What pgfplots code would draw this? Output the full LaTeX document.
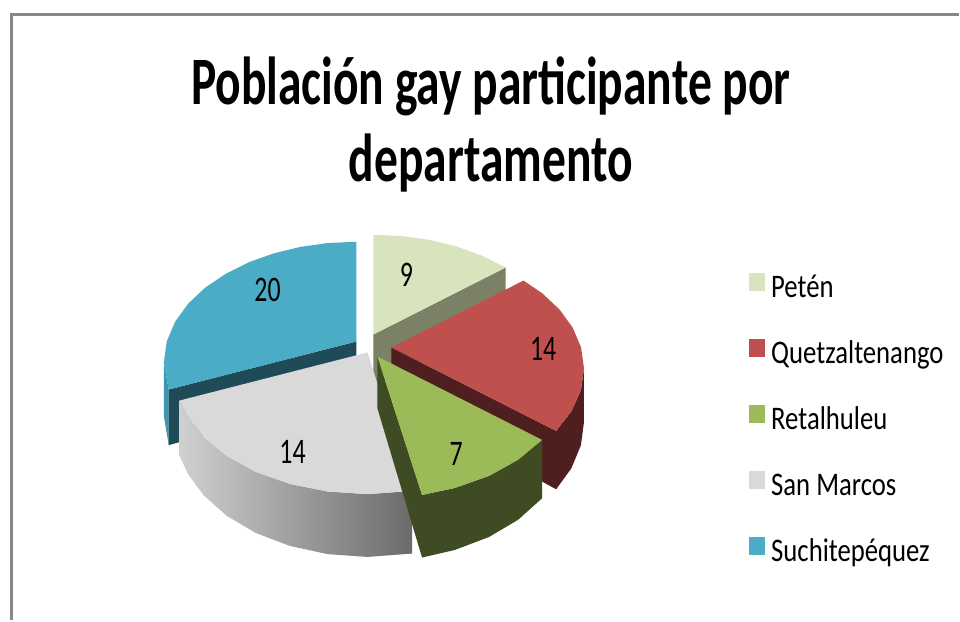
\documentclass[border=0pt]{standalone}
\usepackage{fontspec}
\setmainfont{Carlito}
\newfontfamily\titlefont{Carlito}[FakeStretch=0.70]
\newfontfamily\numfont{Carlito}[FakeStretch=0.72]
\newfontfamily\legfont{Carlito}[FakeStretch=0.81]
\usepackage{pgfplots}
\pgfplotsset{compat=1.18}

\definecolor{petTop}{HTML}{D7E4BD}
\definecolor{petFace}{HTML}{7A8167}
\definecolor{queTop}{HTML}{C0504D}
\definecolor{queSide}{HTML}{4F1E1E}
\definecolor{retTop}{HTML}{9BBB59}
\definecolor{retSide}{HTML}{3F4B23}
\definecolor{smTop}{HTML}{D9D9D9}
\definecolor{smL}{HTML}{D0D0D0}
\definecolor{smR}{HTML}{6B6B6B}
\definecolor{suTop}{HTML}{4BACC6}
\definecolor{suFace}{HTML}{1F4A57}
\definecolor{suSide}{HTML}{3B96AF}
\definecolor{frame}{HTML}{878787}

% Values: Petén 9, Quetzaltenango 14, Retalhuleu 7, San Marcos 14, Suchitepéquez 20 (total 64)
\begin{document}
\begin{tikzpicture}
\begin{axis}[
  x=0.5pt, y=0.5pt,
  xmin=0, xmax=960, ymin=0, ymax=621,
  hide axis, clip=false,
  legend cell align=left,
  legend image code/.code={\fill[#1] (0pt,0pt) rectangle (8pt,9pt);},
  legend style={draw=none, fill=none, at={(axis cs:750,348)}, anchor=north west,
    font=\legfont\fontsize{16.5}{19}\selectfont, row sep=17pt, column sep=3pt, inner sep=0pt,
    nodes={inner sep=0pt, text height=10.5pt, text depth=3.5pt, anchor=west}},
]
\fill[white] (axis cs:0,0) rectangle (axis cs:960,621);
\draw[color=frame, line width=1.5pt] (axis cs:11.5,0) -- (axis cs:11.5,606.5) -- (axis cs:960,606.5);

\addlegendimage{fill=petTop, draw=none}\addlegendentry{Petén}
\addlegendimage{fill=queTop, draw=none}\addlegendentry{Quetzaltenango}
\addlegendimage{fill=retTop, draw=none}\addlegendentry{Retalhuleu}
\addlegendimage{fill=smTop, draw=none}\addlegendentry{San Marcos}
\addlegendimage{fill=suTop, draw=none}\addlegendentry{Suchitepéquez}

% ---- Petén (9) ----
\addplot[draw=none, fill=petFace, forget plot] coordinates {(374,286) (506.3,353.0) (506.3,306.2) (374,234)} -- cycle;
\addplot[draw=none, fill=petTop, forget plot] coordinates {(374,286) (374,385.9) (402.2,384.6) (429.9,380.8) (456.6,374.3) (481.8,365.3) (506.3,353.0)} -- cycle;

% ---- Suchitepéquez (20) ----
\addplot[draw=none, fill=suSide, forget plot] coordinates {(164.1,258.0) (169.0,230.9) (169.0,175.2) (164.1,204.4)} -- cycle;
\addplot[draw=none, fill=suFace, forget plot] coordinates {(357,279) (169.0,230.9) (169.0,175.2) (357,227)} -- cycle;
\addplot[draw=none, fill=suTop, forget plot] coordinates {(357,279) (357,378.9) (328.8,377.6) (301.1,373.8) (274.4,367.3) (249.2,358.3) (226.1,346.8) (205.6,333.0) (188.5,316.9) (175.4,298.8) (167,279) (164.1,258.0) (169.0,230.9)} -- cycle;

% ---- Quetzaltenango (14) ----
\addplot[draw=none, fill=queSide, forget plot] coordinates {(584.9,252.0) (581.8,230.3) (572.2,208.8) (557.0,189.4) (557.0,131.0) (572.2,151.9) (581.8,175.0) (584.9,198.4)} -- cycle;
\addplot[draw=none, fill=queSide, forget plot] coordinates {(392,273) (557.0,189.4) (557.0,131.0) (392,221)} -- cycle;
\addplot[draw=none, fill=queTop, forget plot] coordinates {(392,273) (524.3,340.0) (543.4,327.0) (560.5,310.9) (573.6,292.8) (582,273) (584.9,252.0) (581.8,230.3) (572.2,208.8) (557.0,189.4)} -- cycle;

% ---- San Marcos (14) ----
\addplot[draw=none, left color=smL, right color=smR, forget plot] coordinates {(412.7,129.3) (368,126.1) (328.2,128.7) (290.4,136.3) (256.2,148.4) (227.1,164.4) (204.2,183.1) (187.8,203.8) (180.0,219.9) (180.0,164.2) (187.8,146.9) (204.2,124.6) (227.1,104.4) (256.2,87.2) (290.4,74.2) (328.2,66.0) (368,63.2) (412.7,66.6)} -- cycle;
\addplot[draw=none, fill=smTop, forget plot] coordinates {(368,268) (412.7,129.3) (368,126.1) (328.2,128.7) (290.4,136.3) (256.2,148.4) (227.1,164.4) (204.2,183.1) (187.8,203.8) (180.0,219.9)} -- cycle;

% ---- Retalhuleu (7) ----
\addplot[draw=none, fill=retSide, forget plot] coordinates {(543.0,180.4) (518.9,160.4) (489.8,144.4) (455.6,132.3) (422.7,125.3) (422.7,62.6) (455.6,70.2) (489.8,83.2) (518.9,100.4) (543.0,122.0)} -- cycle;
\addplot[draw=none, fill=retSide, forget plot] coordinates {(378,264) (422.7,125.3) (422.7,62.6) (378,212)} -- cycle;
\addplot[draw=none, fill=retTop, forget plot] coordinates {(378,264) (543.0,180.4) (518.9,160.4) (489.8,144.4) (455.6,132.3) (422.7,125.3)} -- cycle;

% ---- data labels ----
\node[font=\numfont\fontsize{18}{20}\selectfont] at (axis cs:407,346) {9};
\node[font=\numfont\fontsize{18}{20}\selectfont] at (axis cs:544,272) {14};
\node[font=\numfont\fontsize{18}{20}\selectfont] at (axis cs:457,166) {7};
\node[font=\numfont\fontsize{18}{20}\selectfont] at (axis cs:293,168) {14};
\node[font=\numfont\fontsize{18}{20}\selectfont] at (axis cs:268,331) {20};

% ---- title ----
\node[anchor=base, font=\titlefont\bfseries\fontsize{34}{38}\selectfont] at (axis cs:491.5,516) {Población gay participante por};
\node[anchor=base, font=\titlefont\bfseries\fontsize{34}{38}\selectfont] at (axis cs:491.5,439) {departamento};
\end{axis}
\end{tikzpicture}
\end{document}
